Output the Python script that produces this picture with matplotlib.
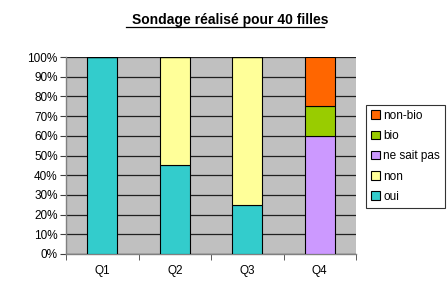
import matplotlib
matplotlib.use('Agg')
from matplotlib import pyplot as plt
from matplotlib.lines import Line2D
from matplotlib.ticker import FuncFormatter, MultipleLocator, FixedLocator
import numpy as np

questions = ['Q1', 'Q2', 'Q3', 'Q4']
series = ['oui', 'non', 'ne sait pas', 'bio', 'non-bio']
oui = [100, 45, 25, 0]
non = [0, 55, 75, 0]
ne_sait_pas = [0, 0, 0, 60]
bio = [0, 0, 0, 15]
non_bio = [0, 0, 0, 25]
colors = ['#33CCCC', '#FFFF99', '#CC99FF', '#99CC00', '#FF6600']

plt.rcParams['font.family'] = ['Liberation Sans', 'DejaVu Sans']

fig = plt.figure(figsize=(4.47, 2.93), dpi=100)
ax = fig.add_axes([66 / 447, 1 - 254 / 293, 290 / 447, 197 / 293])
ax.set_facecolor('#C0C0C0')

x = np.arange(len(questions))
bottom = np.zeros(len(questions))
for name, vals, col in zip(series, [oui, non, ne_sait_pas, bio, non_bio], colors):
    vals = np.array(vals, dtype=float)
    ax.bar(x, vals, width=0.42, bottom=bottom, color=col, edgecolor='black',
           linewidth=0.8, label=name, zorder=3)
    bottom += vals

ax.set_xlim(-0.5, len(questions) - 0.5)
ax.set_ylim(0, 100)
ax.yaxis.set_major_locator(MultipleLocator(10))
ax.yaxis.set_major_formatter(FuncFormatter(lambda v, p: f'{v:.0f}%'))
ax.grid(axis='y', color='#202020', linewidth=0.9, zorder=1)

ax.set_xticks(x)
ax.set_xticklabels(questions)
ax.xaxis.set_minor_locator(FixedLocator(np.arange(-0.5, len(questions), 1.0)))
ax.tick_params(axis='x', which='major', length=0, pad=8)
ax.tick_params(axis='x', which='minor', length=4, color='#404040')
ax.tick_params(axis='y', length=4, color='#404040', pad=2)
ax.tick_params(labelsize=8.5)

for s in ['top', 'right']:
    ax.spines[s].set_visible(False)
for s in ['left', 'bottom']:
    ax.spines[s].set_color('#808080')
    ax.spines[s].set_linewidth(1)

handles, labels = ax.get_legend_handles_labels()
leg = fig.legend(handles[::-1], labels[::-1], loc='upper left',
                 bbox_to_anchor=(366 / 447, 1 - 105 / 293), fontsize=8.5,
                 frameon=True, fancybox=False, edgecolor='black',
                 handlelength=0.75, handleheight=0.75, handletextpad=0.3,
                 labelspacing=0.7, borderpad=0.4, borderaxespad=0)
leg.get_frame().set_linewidth(0.8)

fig.text(230 / 447, 1 - 20 / 293, 'Sondage réalisé pour 40 filles',
         ha='center', va='center', fontsize=10, fontweight='bold')
fig.add_artist(Line2D([126 / 447, 324 / 447], [1 - 26.5 / 293, 1 - 26.5 / 293],
                      color='black', linewidth=0.9))

fig.savefig('out.png', dpi=100)
